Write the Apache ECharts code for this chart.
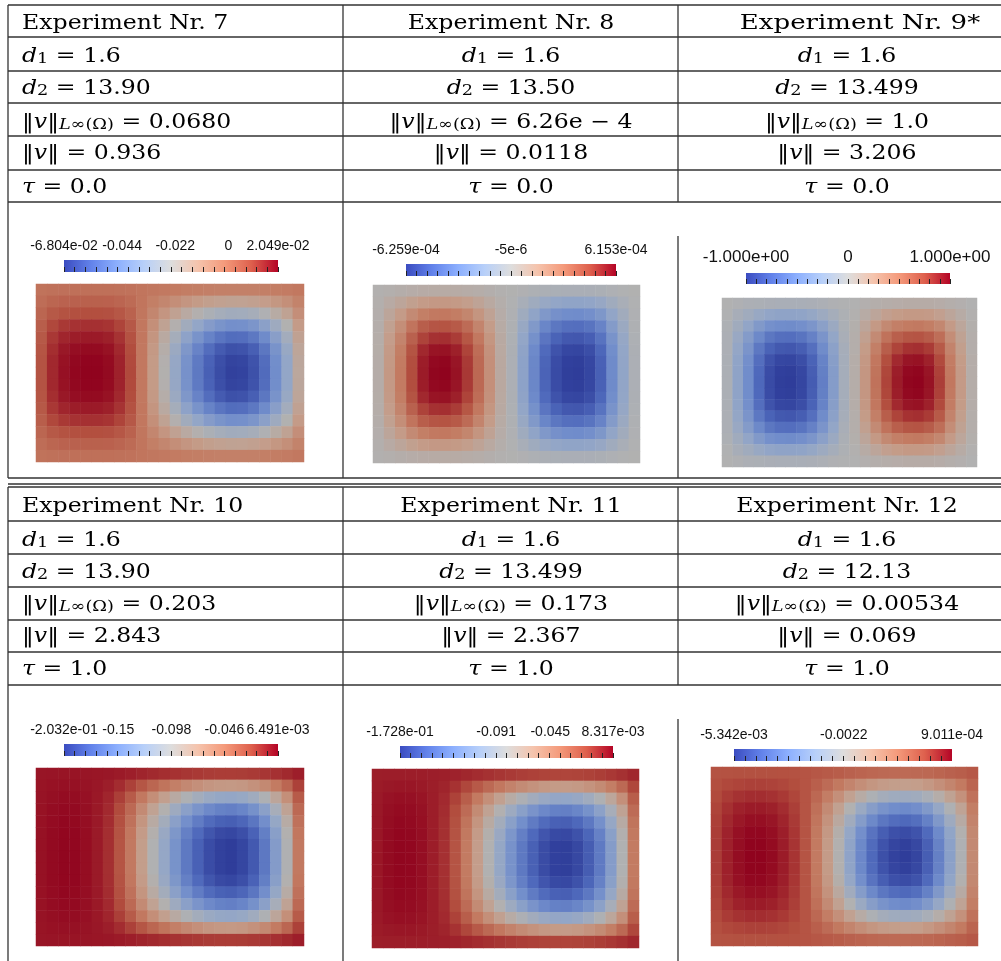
<!DOCTYPE html>
<html><head><meta charset="utf-8">
<script src="https://cdn.jsdelivr.net/npm/echarts@6/dist/echarts.min.js"></script>
<style>html,body{margin:0;padding:0;background:#fff}#c{width:1001px;height:961px}</style>
</head><body><div id="c"></div>
<script>
// ---------- table texts ----------
const experiments = ['Experiment Nr. 7','Experiment Nr. 8','Experiment Nr. 9*','Experiment Nr. 10','Experiment Nr. 11','Experiment Nr. 12'];
const d1Values = ['1.6','1.6','1.6','1.6','1.6','1.6'];
const d2Values = ['13.90','13.50','13.499','13.90','13.499','12.13'];
const linfValues = ['0.0680','6.26e \u2212 4','1.0','0.203','0.173','0.00534'];
const normValues = ['0.936','0.0118','3.206','2.843','2.367','0.069'];
const tauValues = ['0.0','0.0','0.0','1.0','1.0','1.0'];

// ---------- colour bars ----------
const barMin = [-6.804e-2, -6.259e-4, -1.0, -2.032e-1, -1.728e-1, -5.342e-3];
const barMax = [2.049e-2, 6.153e-4, 1.0, 6.491e-3, 8.317e-3, 9.011e-4];
const barLabelValues = [
  [-6.804e-2, -0.044, -0.022, 0, 2.049e-2],
  [-6.259e-4, -5e-6, 6.153e-4],
  [-1, 0, 1],
  [-2.032e-1, -0.15, -0.098, -0.046, 6.491e-3],
  [-1.728e-1, -0.091, -0.045, 8.317e-3],
  [-5.342e-3, -0.0022, 9.011e-4]
];
const barLabelTexts = [
  ['-6.804e-02','-0.044','-0.022','0','2.049e-02'],
  ['-6.259e-04','-5e-6','6.153e-04'],
  ['-1.000e+00','0','1.000e+00'],
  ['-2.032e-01','-0.15','-0.098','-0.046','6.491e-03'],
  ['-1.728e-01','-0.091','-0.045','8.317e-03'],
  ['-5.342e-03','-0.0022','9.011e-04']
];

// ---------- fields (15 rows top->bottom, 24 columns), values in units of fieldUnit ----------
const fieldUnit = [1e-3, 1e-5, 1, 1e-3, 1e-3, 1e-4];
const field7 = [
  [0.4,0.8,0.9,1,1,1,1,0.8,0.5,-0.1,-0.6,-1.2,-1.7,-2.2,-2.6,-3,-3.2,-3.4,-3.3,-3.2,-2.8,-2.3,-1.8,-0.9],
  [1.8,3.5,4.3,4.6,4.7,4.7,4.5,3.7,2.3,-0.2,-2.8,-5.3,-7.8,-10.1,-12,-13.6,-14.7,-15.4,-15.3,-14.5,-12.9,-10.6,-8.1,-4.1],
  [3.5,6.6,8.1,8.8,9,9,8.6,7,4.4,-0.4,-5.3,-10.1,-15,-19.4,-22.9,-26,-28.2,-29.5,-29.3,-27.7,-24.6,-20.2,-15.4,-7.9],
  [5.4,10.1,12.4,13.4,13.7,13.7,13.1,10.7,6.7,-0.7,-8,-15.4,-22.8,-29.5,-34.8,-39.5,-42.9,-44.9,-44.6,-42.2,-37.5,-30.8,-23.5,-12.1],
  [6.6,12.5,15.4,16.6,17,17,16.2,13.3,8.3,-0.8,-10,-19.1,-28.2,-36.5,-43.2,-49,-53.1,-55.6,-55.2,-52.3,-46.5,-38.2,-29.1,-14.9],
  [7.5,14.1,17.4,18.8,19.3,19.3,18.3,15,9.4,-0.9,-11.3,-21.6,-32,-41.4,-48.9,-55.5,-60.2,-63,-62.5,-59.2,-52.6,-43.2,-32.9,-16.9],
  [7.9,14.9,18.3,19.8,20.3,20.3,19.3,15.8,9.9,-1,-11.9,-22.8,-33.7,-43.6,-51.5,-58.4,-63.4,-66.3,-65.8,-62.4,-55.4,-45.5,-34.7,-17.8],
  [8,15,18.5,20,20.5,20.5,19.5,16,10,-1,-12,-23,-34,-44,-52,-59,-64,-67,-66.5,-63,-56,-46,-35,-18],
  [7.9,14.9,18.3,19.8,20.3,20.3,19.3,15.8,9.9,-1,-11.9,-22.8,-33.7,-43.6,-51.5,-58.4,-63.4,-66.3,-65.8,-62.4,-55.4,-45.5,-34.7,-17.8],
  [7.5,14.1,17.4,18.8,19.3,19.3,18.3,15,9.4,-0.9,-11.3,-21.6,-32,-41.4,-48.9,-55.5,-60.2,-63,-62.5,-59.2,-52.6,-43.2,-32.9,-16.9],
  [6.6,12.5,15.4,16.6,17,17,16.2,13.3,8.3,-0.8,-10,-19.1,-28.2,-36.5,-43.2,-49,-53.1,-55.6,-55.2,-52.3,-46.5,-38.2,-29.1,-14.9],
  [5.4,10.1,12.4,13.4,13.7,13.7,13.1,10.7,6.7,-0.7,-8,-15.4,-22.8,-29.5,-34.8,-39.5,-42.9,-44.9,-44.6,-42.2,-37.5,-30.8,-23.5,-12.1],
  [3.5,6.6,8.1,8.8,9,9,8.6,7,4.4,-0.4,-5.3,-10.1,-15,-19.4,-22.9,-26,-28.2,-29.5,-29.3,-27.7,-24.6,-20.2,-15.4,-7.9],
  [1.8,3.5,4.3,4.6,4.7,4.7,4.5,3.7,2.3,-0.2,-2.8,-5.3,-7.8,-10.1,-12,-13.6,-14.7,-15.4,-15.3,-14.5,-12.9,-10.6,-8.1,-4.1],
  [0.4,0.8,0.9,1,1,1,1,0.8,0.5,-0.1,-0.6,-1.2,-1.7,-2.2,-2.6,-3,-3.2,-3.4,-3.3,-3.2,-2.8,-2.3,-1.8,-0.9]
];
const field8 = [
  [0.2,1.2,2.2,3.2,4,4.3,4.3,4.1,3.5,2.6,1.5,0.4,-0.2,-1.3,-2.4,-3.4,-4,-4.3,-4.4,-4.2,-3.5,-2.3,-1.2,-0.2],
  [0.9,4.8,8.6,12.9,15.8,17.1,17.2,16.4,14.1,10.3,6,1.7,-0.9,-5.3,-9.6,-13.7,-16.1,-17.4,-17.5,-16.7,-14,-9.1,-4.7,-0.9],
  [1.6,8.8,15.7,23.5,28.9,31.1,31.4,29.8,25.7,18.8,11,3.2,-1.6,-9.6,-17.5,-24.9,-29.4,-31.6,-31.9,-30.3,-25.6,-16.6,-8.6,-1.6],
  [2.2,12.2,21.9,32.7,40.2,43.2,43.7,41.5,35.8,26.2,15.3,4.4,-2.2,-13.3,-24.4,-34.6,-40.9,-44,-44.4,-42.2,-35.6,-23.1,-12,-2.2],
  [2.6,14.6,26.2,39.2,48.1,51.8,52.3,49.6,42.8,31.4,18.3,5.3,-2.6,-16,-29.2,-41.5,-49,-52.7,-53.2,-50.6,-42.6,-27.7,-14.4,-2.6],
  [2.9,16.3,29.3,43.8,53.8,57.9,58.4,55.5,47.9,35.1,20.4,5.9,-2.9,-17.9,-32.7,-46.4,-54.7,-58.9,-59.5,-56.5,-47.6,-31,-16.1,-2.9],
  [3.1,17,30.5,45.6,56,60.3,60.9,57.8,49.9,36.5,21.3,6.1,-3.1,-18.6,-34.1,-48.3,-57,-61.4,-62,-58.9,-49.6,-32.3,-16.7,-3.1],
  [3.1,17.2,30.8,46.1,56.6,60.9,61.5,58.4,50.4,36.9,21.5,6.2,-3.1,-18.8,-34.4,-48.8,-57.6,-62,-62.6,-59.5,-50.1,-32.6,-16.9,-3.1],
  [3.1,17,30.5,45.6,56,60.3,60.9,57.8,49.9,36.5,21.3,6.1,-3.1,-18.6,-34.1,-48.3,-57,-61.4,-62,-58.9,-49.6,-32.3,-16.7,-3.1],
  [2.9,16.3,29.3,43.8,53.8,57.9,58.4,55.5,47.9,35.1,20.4,5.9,-2.9,-17.9,-32.7,-46.4,-54.7,-58.9,-59.5,-56.5,-47.6,-31,-16.1,-2.9],
  [2.6,14.6,26.2,39.2,48.1,51.8,52.3,49.6,42.8,31.4,18.3,5.3,-2.6,-16,-29.2,-41.5,-49,-52.7,-53.2,-50.6,-42.6,-27.7,-14.4,-2.6],
  [2.2,12.2,21.9,32.7,40.2,43.2,43.7,41.5,35.8,26.2,15.3,4.4,-2.2,-13.3,-24.4,-34.6,-40.9,-44,-44.4,-42.2,-35.6,-23.1,-12,-2.2],
  [1.6,8.8,15.7,23.5,28.9,31.1,31.4,29.8,25.7,18.8,11,3.2,-1.6,-9.6,-17.5,-24.9,-29.4,-31.6,-31.9,-30.3,-25.6,-16.6,-8.6,-1.6],
  [0.9,4.8,8.6,12.9,15.8,17.1,17.2,16.4,14.1,10.3,6,1.7,-0.9,-5.3,-9.6,-13.7,-16.1,-17.4,-17.5,-16.7,-14,-9.1,-4.7,-0.9],
  [0.2,1.2,2.2,3.2,4,4.3,4.3,4.1,3.5,2.6,1.5,0.4,-0.2,-1.3,-2.4,-3.4,-4,-4.3,-4.4,-4.2,-3.5,-2.3,-1.2,-0.2]
];
const field9 = [
  [0,-0.02,-0.04,-0.05,-0.06,-0.07,-0.07,-0.07,-0.06,-0.04,-0.02,-0.01,0,0.02,0.04,0.05,0.06,0.07,0.07,0.07,0.06,0.04,0.02,0],
  [-0.01,-0.08,-0.14,-0.21,-0.26,-0.28,-0.28,-0.27,-0.23,-0.17,-0.1,-0.03,0.01,0.08,0.15,0.22,0.26,0.28,0.28,0.27,0.22,0.15,0.08,0.01],
  [-0.03,-0.14,-0.26,-0.38,-0.47,-0.5,-0.51,-0.48,-0.42,-0.31,-0.18,-0.05,0.03,0.15,0.28,0.4,0.47,0.5,0.51,0.48,0.41,0.27,0.14,0.03],
  [-0.04,-0.2,-0.36,-0.53,-0.65,-0.7,-0.71,-0.67,-0.58,-0.43,-0.25,-0.07,0.04,0.21,0.39,0.55,0.65,0.7,0.71,0.67,0.57,0.37,0.19,0.04],
  [-0.04,-0.24,-0.43,-0.64,-0.78,-0.84,-0.85,-0.81,-0.7,-0.51,-0.3,-0.09,0.04,0.26,0.47,0.66,0.78,0.84,0.85,0.81,0.68,0.44,0.23,0.04],
  [-0.05,-0.27,-0.48,-0.71,-0.87,-0.94,-0.95,-0.9,-0.78,-0.57,-0.33,-0.1,0.05,0.29,0.52,0.74,0.87,0.94,0.95,0.9,0.76,0.49,0.26,0.05],
  [-0.05,-0.28,-0.5,-0.74,-0.91,-0.98,-0.99,-0.94,-0.81,-0.59,-0.35,-0.1,0.05,0.3,0.54,0.77,0.91,0.98,0.99,0.94,0.79,0.51,0.27,0.05],
  [-0.05,-0.28,-0.5,-0.75,-0.92,-0.99,-1,-0.95,-0.82,-0.6,-0.35,-0.1,0.05,0.3,0.55,0.78,0.92,0.99,1,0.95,0.8,0.52,0.27,0.05],
  [-0.05,-0.28,-0.5,-0.74,-0.91,-0.98,-0.99,-0.94,-0.81,-0.59,-0.35,-0.1,0.05,0.3,0.54,0.77,0.91,0.98,0.99,0.94,0.79,0.51,0.27,0.05],
  [-0.05,-0.27,-0.48,-0.71,-0.87,-0.94,-0.95,-0.9,-0.78,-0.57,-0.33,-0.1,0.05,0.29,0.52,0.74,0.87,0.94,0.95,0.9,0.76,0.49,0.26,0.05],
  [-0.04,-0.24,-0.43,-0.64,-0.78,-0.84,-0.85,-0.81,-0.7,-0.51,-0.3,-0.09,0.04,0.26,0.47,0.66,0.78,0.84,0.85,0.81,0.68,0.44,0.23,0.04],
  [-0.04,-0.2,-0.36,-0.53,-0.65,-0.7,-0.71,-0.67,-0.58,-0.43,-0.25,-0.07,0.04,0.21,0.39,0.55,0.65,0.7,0.71,0.67,0.57,0.37,0.19,0.04],
  [-0.03,-0.14,-0.26,-0.38,-0.47,-0.5,-0.51,-0.48,-0.42,-0.31,-0.18,-0.05,0.03,0.15,0.28,0.4,0.47,0.5,0.51,0.48,0.41,0.27,0.14,0.03],
  [-0.01,-0.08,-0.14,-0.21,-0.26,-0.28,-0.28,-0.27,-0.23,-0.17,-0.1,-0.03,0.01,0.08,0.15,0.22,0.26,0.28,0.28,0.27,0.22,0.15,0.08,0.01],
  [0,-0.02,-0.04,-0.05,-0.06,-0.07,-0.07,-0.07,-0.06,-0.04,-0.02,-0.01,0,0.02,0.04,0.05,0.06,0.07,0.07,0.07,0.06,0.04,0.02,0]
];
const field10 = [
  [0.1,0.3,0.4,0.4,0.2,-0.1,-0.6,-1.7,-3.2,-5.1,-6.9,-8.6,-10.2,-11.6,-12.7,-13.6,-14.1,-14.2,-13.9,-13,-11.6,-9.5,-7,-3.2],
  [0.5,1.4,1.9,1.7,1,-0.5,-3.1,-8.2,-15.3,-24.8,-33.7,-41.8,-49.3,-56.1,-61.5,-66,-68.3,-69,-67.3,-63.2,-56.4,-46.2,-34,-15.3],
  [0.9,2.4,3.4,3.1,1.8,-0.9,-5.5,-14.6,-27.5,-44.5,-60.4,-75,-88.5,-100.7,-110.4,-118.3,-122.6,-123.8,-120.8,-113.5,-101.3,-83,-61,-27.5],
  [1.2,3.2,4.3,4,2.4,-1.2,-7.1,-19,-35.6,-57.7,-78.2,-97.2,-114.6,-130.4,-143,-153.3,-158.8,-160.4,-156.4,-146.9,-131.1,-107.4,-79,-35.6],
  [1.4,3.6,5,4.5,2.7,-1.4,-8.1,-21.6,-40.5,-65.7,-89.1,-110.7,-130.5,-148.5,-162.9,-174.6,-180.9,-182.7,-178.2,-167.4,-149.4,-122.4,-90,-40.5],
  [1.5,3.9,5.3,4.9,2.9,-1.5,-8.7,-23.3,-43.7,-70.8,-96,-119.3,-140.7,-160,-175.6,-188.2,-195,-196.9,-192.1,-180.4,-161,-131.9,-97,-43.7],
  [1.5,4,5.5,5,3,-1.5,-9,-24,-45,-73,-99,-123,-145,-165,-181,-194,-201,-203,-198,-186,-166,-136,-100,-45],
  [1.5,4,5.5,5,3,-1.5,-9,-24,-45,-73,-99,-123,-145,-165,-181,-194,-201,-203,-198,-186,-166,-136,-100,-45],
  [1.5,4,5.5,5,3,-1.5,-9,-24,-45,-73,-99,-123,-145,-165,-181,-194,-201,-203,-198,-186,-166,-136,-100,-45],
  [1.5,3.9,5.3,4.9,2.9,-1.5,-8.7,-23.3,-43.7,-70.8,-96,-119.3,-140.7,-160,-175.6,-188.2,-195,-196.9,-192.1,-180.4,-161,-131.9,-97,-43.7],
  [1.4,3.6,5,4.5,2.7,-1.4,-8.1,-21.6,-40.5,-65.7,-89.1,-110.7,-130.5,-148.5,-162.9,-174.6,-180.9,-182.7,-178.2,-167.4,-149.4,-122.4,-90,-40.5],
  [1.2,3.2,4.3,4,2.4,-1.2,-7.1,-19,-35.6,-57.7,-78.2,-97.2,-114.6,-130.4,-143,-153.3,-158.8,-160.4,-156.4,-146.9,-131.1,-107.4,-79,-35.6],
  [0.9,2.4,3.4,3.1,1.8,-0.9,-5.5,-14.6,-27.5,-44.5,-60.4,-75,-88.5,-100.7,-110.4,-118.3,-122.6,-123.8,-120.8,-113.5,-101.3,-83,-61,-27.5],
  [0.5,1.4,1.9,1.7,1,-0.5,-3.1,-8.2,-15.3,-24.8,-33.7,-41.8,-49.3,-56.1,-61.5,-66,-68.3,-69,-67.3,-63.2,-56.4,-46.2,-34,-15.3],
  [0.1,0.3,0.4,0.4,0.2,-0.1,-0.6,-1.7,-3.2,-5.1,-6.9,-8.6,-10.2,-11.6,-12.7,-13.6,-14.1,-14.2,-13.9,-13,-11.6,-9.5,-7,-3.2]
];
const field11 = [
  [0.2,0.4,0.5,0.5,0.4,0,-0.4,-1.3,-2.6,-4.2,-5.7,-7.2,-8.6,-9.8,-10.8,-11.6,-12,-12,-11.7,-10.9,-9.7,-8,-5.8,-2.6],
  [0.9,2,2.6,2.4,1.7,0.2,-1.9,-6.1,-12.6,-20.4,-27.9,-35,-41.8,-47.6,-52.4,-56.1,-58.1,-58.5,-56.8,-53,-47.3,-38.8,-28.2,-12.6],
  [1.5,3.7,4.6,4.3,3.1,0.3,-3.4,-11,-22.6,-36.6,-50,-62.8,-75,-85.4,-93.9,-100.7,-104.3,-104.9,-101.9,-95.2,-84.8,-69.5,-50.6,-22.6],
  [2,4.7,5.9,5.5,4,0.4,-4.3,-14.2,-29.2,-47.4,-64.8,-81.4,-97.2,-110.6,-121.7,-130.4,-135.1,-135.9,-131.9,-123.2,-109.8,-90.1,-65.6,-29.2],
  [2.3,5.4,6.8,6.3,4.5,0.5,-5,-16.2,-33.3,-54,-73.8,-92.7,-110.7,-126,-138.6,-148.5,-153.9,-154.8,-150.3,-140.4,-125.1,-102.6,-74.7,-33.3],
  [2.4,5.8,7.3,6.8,4.9,0.5,-5.3,-17.5,-35.9,-58.2,-79.5,-99.9,-119.3,-135.8,-149.4,-160,-165.9,-166.8,-162,-151.3,-134.8,-110.6,-80.5,-35.9],
  [2.5,6,7.5,7,5,0.5,-5.5,-18,-37,-60,-82,-103,-123,-140,-154,-165,-171,-172,-167,-156,-139,-114,-83,-37],
  [2.5,6,7.5,7,5,0.5,-5.5,-18,-37,-60,-82,-103,-123,-140,-154,-165,-171,-172,-167,-156,-139,-114,-83,-37],
  [2.5,6,7.5,7,5,0.5,-5.5,-18,-37,-60,-82,-103,-123,-140,-154,-165,-171,-172,-167,-156,-139,-114,-83,-37],
  [2.4,5.8,7.3,6.8,4.9,0.5,-5.3,-17.5,-35.9,-58.2,-79.5,-99.9,-119.3,-135.8,-149.4,-160,-165.9,-166.8,-162,-151.3,-134.8,-110.6,-80.5,-35.9],
  [2.3,5.4,6.8,6.3,4.5,0.5,-5,-16.2,-33.3,-54,-73.8,-92.7,-110.7,-126,-138.6,-148.5,-153.9,-154.8,-150.3,-140.4,-125.1,-102.6,-74.7,-33.3],
  [2,4.7,5.9,5.5,4,0.4,-4.3,-14.2,-29.2,-47.4,-64.8,-81.4,-97.2,-110.6,-121.7,-130.4,-135.1,-135.9,-131.9,-123.2,-109.8,-90.1,-65.6,-29.2],
  [1.5,3.7,4.6,4.3,3.1,0.3,-3.4,-11,-22.6,-36.6,-50,-62.8,-75,-85.4,-93.9,-100.7,-104.3,-104.9,-101.9,-95.2,-84.8,-69.5,-50.6,-22.6],
  [0.9,2,2.6,2.4,1.7,0.2,-1.9,-6.1,-12.6,-20.4,-27.9,-35,-41.8,-47.6,-52.4,-56.1,-58.1,-58.5,-56.8,-53,-47.3,-38.8,-28.2,-12.6],
  [0.2,0.4,0.5,0.5,0.4,0,-0.4,-1.3,-2.6,-4.2,-5.7,-7.2,-8.6,-9.8,-10.8,-11.6,-12,-12,-11.7,-10.9,-9.7,-8,-5.8,-2.6]
];
const field12 = [
  [0.2,0.4,0.6,0.6,0.6,0.6,0.5,0.3,0,-0.5,-1,-1.5,-2.2,-2.7,-3.2,-3.5,-3.7,-3.7,-3.6,-3.3,-2.8,-2.2,-1.6,-0.7],
  [0.8,1.7,2.2,2.5,2.5,2.3,1.8,1.1,0,-1.8,-3.9,-6.2,-8.7,-10.9,-12.7,-14,-14.7,-15,-14.6,-13.3,-11.3,-9,-6.4,-2.8],
  [1.5,3.1,4.1,4.6,4.6,4.2,3.3,1.9,0,-3.3,-7.1,-11.2,-15.8,-19.9,-23.2,-25.5,-26.8,-27.2,-26.5,-24.2,-20.7,-16.3,-11.7,-5.1],
  [2.2,4.3,5.8,6.5,6.5,6,4.7,2.7,0,-4.7,-10.1,-15.8,-22.3,-28.1,-32.8,-36,-37.8,-38.4,-37.4,-34.2,-29.2,-23,-16.6,-7.2],
  [2.6,5.1,6.8,7.7,7.7,7.1,5.5,3.2,0,-5.5,-11.9,-18.7,-26.4,-33.2,-38.7,-42.5,-44.6,-45.4,-44.2,-40.4,-34.4,-27.2,-19.6,-8.5],
  [2.9,5.7,7.6,8.6,8.6,7.9,6.2,3.6,0,-6.2,-13.3,-20.9,-29.5,-37.1,-43.2,-47.5,-49.9,-50.7,-49.4,-45.1,-38.5,-30.4,-21.9,-9.5],
  [3,5.9,7.9,8.9,8.9,8.2,6.4,3.8,0,-6.4,-13.9,-21.8,-30.7,-38.6,-45,-49.5,-52,-52.9,-51.5,-47,-40.1,-31.7,-22.8,-9.9],
  [3,6,8,9,9,8.3,6.5,3.8,0,-6.5,-14,-22,-31,-39,-45.5,-50,-52.5,-53.4,-52,-47.5,-40.5,-32,-23,-10],
  [3,5.9,7.9,8.9,8.9,8.2,6.4,3.8,0,-6.4,-13.9,-21.8,-30.7,-38.6,-45,-49.5,-52,-52.9,-51.5,-47,-40.1,-31.7,-22.8,-9.9],
  [2.9,5.7,7.6,8.6,8.6,7.9,6.2,3.6,0,-6.2,-13.3,-20.9,-29.5,-37.1,-43.2,-47.5,-49.9,-50.7,-49.4,-45.1,-38.5,-30.4,-21.9,-9.5],
  [2.6,5.1,6.8,7.7,7.7,7.1,5.5,3.2,0,-5.5,-11.9,-18.7,-26.4,-33.2,-38.7,-42.5,-44.6,-45.4,-44.2,-40.4,-34.4,-27.2,-19.6,-8.5],
  [2.2,4.3,5.8,6.5,6.5,6,4.7,2.7,0,-4.7,-10.1,-15.8,-22.3,-28.1,-32.8,-36,-37.8,-38.4,-37.4,-34.2,-29.2,-23,-16.6,-7.2],
  [1.5,3.1,4.1,4.6,4.6,4.2,3.3,1.9,0,-3.3,-7.1,-11.2,-15.8,-19.9,-23.2,-25.5,-26.8,-27.2,-26.5,-24.2,-20.7,-16.3,-11.7,-5.1],
  [0.8,1.7,2.2,2.5,2.5,2.3,1.8,1.1,0,-1.8,-3.9,-6.2,-8.7,-10.9,-12.7,-14,-14.7,-15,-14.6,-13.3,-11.3,-9,-6.4,-2.8],
  [0.2,0.4,0.6,0.6,0.6,0.6,0.5,0.3,0,-0.5,-1,-1.5,-2.2,-2.7,-3.2,-3.5,-3.7,-3.7,-3.6,-3.3,-2.8,-2.2,-1.6,-0.7]
];
const fields = [field7, field8, field9, field10, field11, field12];

// ---------- layout (pixels) ----------
const heatBox = [[36,284,268,178],[373,285,267,178],[722,298,255,169],[36,768,268,178],[372,769,267,179],[711,767,267,179]];
const barBox  = [[64,260,214,12],[406,264,210,12],[746,273,204,11],[64,744,214,12],[400,746,213,12],[734,749,218,12]];
const barFont = [14,14,17,14,14,14];

// cool-to-warm colour map
const cmap = ['#3b4cc0','#6282ea','#8db0fe','#b8d0f9','#dddddd','#f5c4ad','#f49a7b','#de604d','#b40426'];
function shade(hex, f){
  const n = parseInt(hex.slice(1),16);
  const r = Math.round(((n>>16)&255)*f), g = Math.round(((n>>8)&255)*f), b = Math.round((n&255)*f);
  return 'rgb('+r+','+g+','+b+')';
}
const surfaceColors = cmap.map(c => shade(c, 0.8));
const barGradient = {type:'linear', x:0, y:0, x2:1, y2:0,
  colorStops: cmap.map((c,i)=>({offset: i/(cmap.length-1), color: c}))};

const colCats = Array.from({length:24},(_,i)=>String(i));
const rowCats = Array.from({length:15},(_,i)=>String(i));

const grids=[], xAxes=[], yAxes=[], series=[], visualMaps=[];
for (let k=0;k<6;k++){
  const hb = heatBox[k], bb = barBox[k];
  grids.push({left:hb[0], top:hb[1], width:hb[2], height:hb[3], containLabel:false});
  xAxes.push({gridIndex:2*k, type:'category', data:colCats, show:false});
  yAxes.push({gridIndex:2*k, type:'category', data:rowCats, inverse:true, show:false});
  const data=[];
  fields[k].forEach((row,j)=>row.forEach((v,i)=>data.push([i,j,v*fieldUnit[k]])));
  series.push({type:'heatmap', xAxisIndex:2*k, yAxisIndex:2*k, data, itemStyle:{borderWidth:0}, emphasis:{disabled:true}, silent:true});
  visualMaps.push({type:'continuous', show:false, seriesIndex:k, min:barMin[k], max:barMax[k], inRange:{color:surfaceColors}});

  grids.push({left:bb[0], top:bb[1], width:bb[2], height:bb[3], show:true, borderWidth:0, backgroundColor:barGradient});
  const ticks=[]; for(let t=0;t<=20;t++) ticks.push(barMin[k]+(barMax[k]-barMin[k])*t/20);
  const lv = barLabelValues[k], lt = barLabelTexts[k];
  xAxes.push({gridIndex:2*k+1, type:'value', min:barMin[k], max:barMax[k], position:'top',
    axisLine:{show:false}, splitLine:{show:false},
    axisTick:{show:true, customValues:ticks, length:5, inside:false, lineStyle:{color:'#222', width:1}},
    axisLabel:{show:true, customValues:lv, margin:7, color:'#111', fontFamily:'Liberation Sans', fontSize:barFont[k],
      formatter:(v)=>{let b=0; for(let q=1;q<lv.length;q++) if(Math.abs(lv[q]-v)<Math.abs(lv[b]-v)) b=q; return lt[b];}}});
  yAxes.push({gridIndex:2*k+1, type:'value', show:false, min:0, max:1});
}

// ---------- table graphics ----------
const graphics=[];
const LC='#333', LW=1.3;
const hLines=[5,37,71,103,136,170,202,478,484,487,521,554,587,620,652,685];
hLines.forEach(y=>graphics.push({type:'line', shape:{x1:8,y1:y,x2:1001,y2:y}, style:{stroke:LC,lineWidth:LW}, silent:true}));
const vLines=[[8,5,478],[8,487,961],[343,5,478],[343,487,961],[678,5,202],[678,236,478],[678,487,685],[678,719,961]];
vLines.forEach(v=>graphics.push({type:'line', shape:{x1:v[0],y1:v[1],x2:v[0],y2:v[2]}, style:{stroke:LC,lineWidth:LW}, silent:true}));

const FF='DejaVu Serif';
const rich={
  r:{fontFamily:FF,fontSize:20,lineHeight:24,verticalAlign:'bottom',color:'#000'},
  i:{fontFamily:FF,fontSize:20,lineHeight:24,verticalAlign:'bottom',color:'#000',fontStyle:'italic'},
  s:{fontFamily:FF,fontSize:15,lineHeight:12,verticalAlign:'bottom',color:'#000'},
  si:{fontFamily:FF,fontSize:15,lineHeight:12,verticalAlign:'bottom',color:'#000',fontStyle:'italic'}
};
const baseTop=[29,62,94,128,159,193], baseBot=[512,546,578,610,642,675];
const colX=[22,511,847];
for(let k=0;k<6;k++){
  const col=k%3, base = k<3?baseTop:baseBot;
  const texts=[
    '{r|'+experiments[k]+'}',
    '{i|d}{s|1}{r| = '+d1Values[k]+'}',
    '{i|d}{s|2}{r| = '+d2Values[k]+'}',
    '{r|\u2016}{i|v}{r|\u2016}{si|L}{s|\u221e(\u03a9)}{r| = '+linfValues[k]+'}',
    '{r|\u2016}{i|v}{r|\u2016 = '+normValues[k]+'}',
    '{i|\u03c4}{r| = '+tauValues[k]+'}'
  ];
  texts.forEach((t,r)=>{
    let x=colX[col], sx=1.18;
    if(k===2 && r===0){ x=860; sx=1.3; }
    graphics.push({type:'text', x:x, y:base[r]+5, scaleX:sx, silent:true,
      style:{text:t, rich:rich, align: col===0?'left':'center', verticalAlign:'bottom'}});
  });
}

const chart = echarts.init(document.getElementById('c'), null, {renderer:'canvas'});
chart.setOption({
  animation:false,
  backgroundColor:'#fff',
  grid:grids, xAxis:xAxes, yAxis:yAxes, visualMap:visualMaps, series:series,
  graphic:graphics
});
</script>
</body></html>
